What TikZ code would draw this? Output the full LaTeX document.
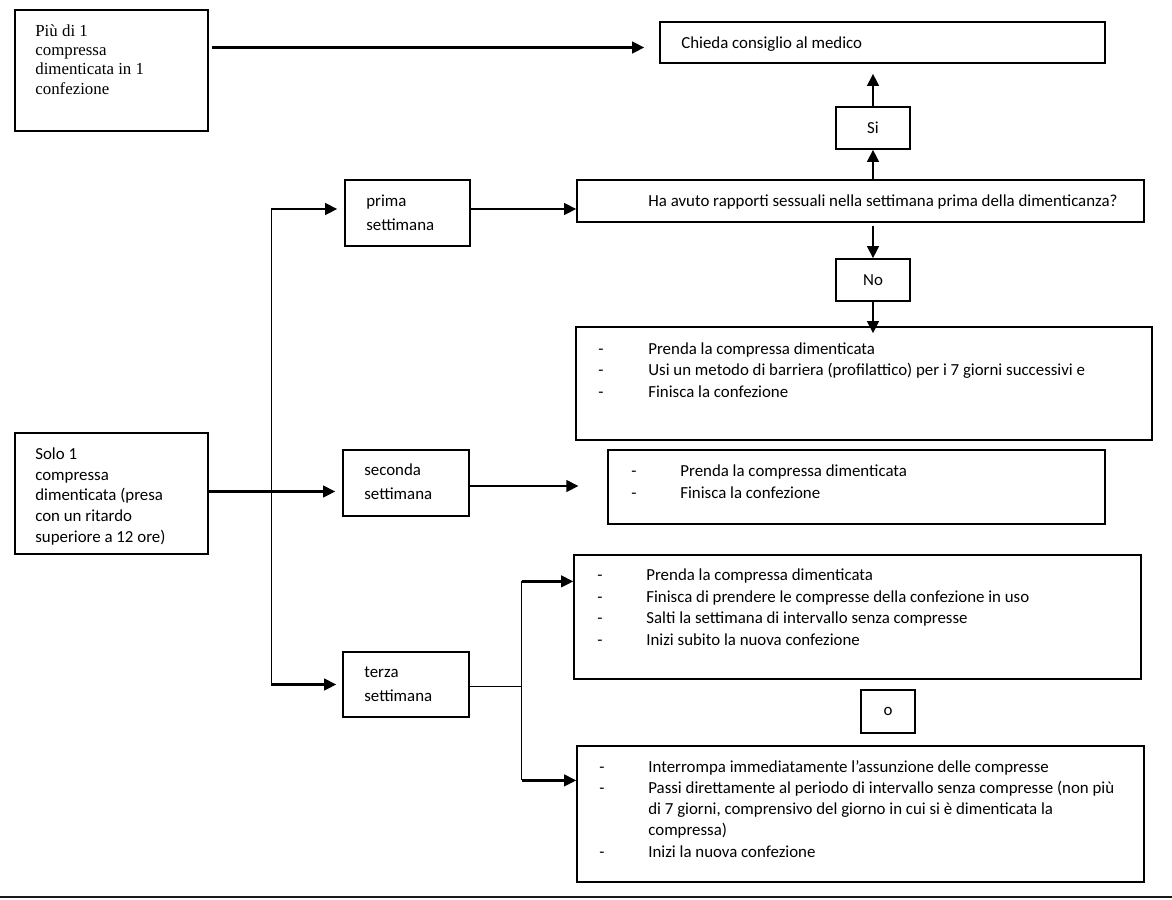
\documentclass[tikz,border=0pt]{standalone}
\usepackage{fontspec}
\setmainfont{Carlito}
\newfontfamily\timesfont{Liberation Serif}
\usetikzlibrary{arrows.meta,calc,positioning,fit}

\begin{document}
\begin{tikzpicture}[x=0.02cm,y=-0.02cm,
  box/.style={draw,line width=0.7pt,inner sep=0pt},
  small/.style={box,minimum width=1.48cm,minimum height=0.84cm,font=\fontsize{9.6}{12}\selectfont},
  arr/.style={line width=1.6pt,-{Triangle[length=7pt,width=6.5pt]}},
  ln/.style={line width=0.6pt},
  txt/.style={anchor=base west,inner sep=0pt,align=left,font=\fontsize{9.6}{12.2}\selectfont}]
\useasboundingbox (0,0) rectangle (1172,899);

% boxes
\node[box,fit={(15,10) (208,131)}] (piu) {};
\node[box,fit={(660,22) (1105,63)}] (medico) {};
\node[small] (si) at (873,128) {Si};
\node[box,fit={(577,180) (1144,222)}] (domanda) {};
\node[small] (no) at (873,280) {No};
\node[box,fit={(345,180) (470,246)}] (prima) {};
\node[box,fit={(343,450) (469,516)}] (seconda) {};
\node[box,fit={(343,652) (469,717)}] (terza) {};
\node[box,fit={(15,433) (208,554)}] (solo) {};
\node[box,fit={(576,327) (1152,440)}] (resno) {};
\node[box,fit={(608,450) (1105,524)}] (resdue) {};
\node[box,fit={(574,555) (1141,679)}] (restre) {};
\node[small,minimum width=1.08cm,minimum height=0.86cm] (oppure) at (888,711.5) {o};
\node[box,fit={(577,746) (1144,882)}] (resquattro) {};

% texts (base = last line)
\node[txt,font=\timesfont\fontsize{9.6}{11}\selectfont] (t-piu) at (35,94)
  {Più di 1\\compressa\\dimenticata in 1\\confezione};
\node[txt] (t-medico) at (681,48) {Chieda consiglio al medico};
\node[txt] (t-domanda) at (648,206) {Ha avuto rapporti sessuali nella settimana prima della dimenticanza?};
\node[txt,font=\fontsize{9.6}{13.6}\selectfont] (t-prima) at (366,230) {prima\\settimana};
\node[txt,font=\fontsize{9.6}{13.6}\selectfont] (t-seconda) at (364,499) {seconda\\settimana};
\node[txt,font=\fontsize{9.6}{13.2}\selectfont] (t-terza) at (364,701) {terza\\settimana};
\node[txt,font=\fontsize{9.6}{11.76}\selectfont] (t-solo) at (35,542)
  {Solo 1\\compressa\\dimenticata (presa\\con un ritardo\\superiore a 12 ore)};
\node[txt] (d-resno) at (598,397) {-\\-\\-};
\node[txt] (t-resno) at (648,397)
  {Prenda la compressa dimenticata\\Usi un metodo di barriera (profilattico) per i 7 giorni successivi e\\Finisca la confezione};
\node[txt] (d-resdue) at (631,498) {-\\-};
\node[txt] (t-resdue) at (680,498) {Prenda la compressa dimenticata\\Finisca la confezione};
\node[txt] (d-restre) at (597,645) {-\\-\\-\\-};
\node[txt] (t-restre) at (646,645)
  {Prenda la compressa dimenticata\\Finisca di prendere le compresse della confezione in uso\\Salti la settimana di intervallo senza compresse\\Inizi subito la nuova confezione};
\node[txt,font=\fontsize{9.6}{12}\selectfont] (d-resquattro) at (599,857) {-\\-\\[24pt]-};
\node[txt,font=\fontsize{9.6}{12}\selectfont] (t-resquattro) at (648,857)
  {Interrompa immediatamente l’assunzione delle compresse\\Passi direttamente al periodo di intervallo senza compresse (non più\\di 7 giorni, comprensivo del giorno in cui si è dimenticata la\\compressa)\\Inizi la nuova confezione};

% connectors
\coordinate (brA) at ($(solo.east)!0.47!(seconda.west)$);
\coordinate (brB) at ($(terza.east)+(52,0)$);
\coordinate (fine2) at ($(seconda.east)+(109,0)$);
\coordinate (r1) at ($(restre.north west)+(0,27)$);
\coordinate (r2) at ($(resquattro.north west)+(0,35)$);

\draw[arr] ($(piu.east |- medico.west)+(3,5)$) -- ($(medico.west)+(-15,5)$);
\draw[arr] (si.south |- domanda.north) -- (si.south);
\draw[arr] (si.north) -- ($(si.north |- medico.south)+(0,10)$);
\draw[arr] ($(no.north |- domanda.south)+(0,3)$) -- (no.north);
\draw[arr] (no.south) -- ($(no.south |- resno.north)+(0,7)$);
\draw[ln] ($(brA |- prima.west)+(0,-4)$) -- (brA |- terza.west);
\draw[arr] ($(brA |- prima.west)+(0,-4)$) -- ($(prima.west)+(-7,-4)$);
\draw[arr] ($(solo.east)+(0,-2)$) -- ($(solo.east -| seconda.west)+(-7,-2)$);
\draw[arr] (brA |- terza.west) -- ($(terza.west)+(-6,0)$);
\draw[arr] ($(prima.east)+(0,-4)$) -- ($(prima.east -| domanda.west)+(0,-4)$);
\draw[arr] ($(seconda.east)+(0,3)$) -- ($(fine2)+(0,3)$);
\draw[ln] ($(terza.east)+(0,2)$) -- ($(brB |- terza.east)+(0,2)$);
\draw[ln] (brB |- r1) -- (brB |- r2);
\draw[arr] (brB |- r1) -- (r1);
\draw[arr] (brB |- r2) -- (r2);

\draw[line width=0.9pt,black!90] (0,897) -- (1172,897);
\end{tikzpicture}
\end{document}
